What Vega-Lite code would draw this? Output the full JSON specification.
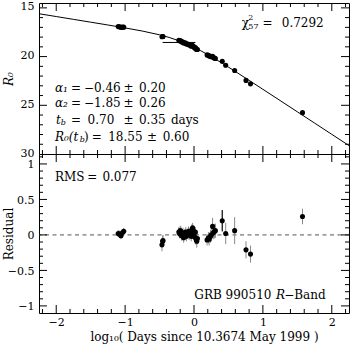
{
  "$schema": "https://vega.github.io/schema/vega-lite/v6.json",
  "padding": {"left": 1, "top": 0, "right": 1, "bottom": 2},
  "background": "white",
  "spacing": 0,
  "bounds": "flush",
  "config": {
    "font": "DejaVu Serif",
    "view": {"stroke": "black", "strokeWidth": 1},
    "axis": {"domain": false, "grid": false, "ticks": false, "labelColor": "black", "titleColor": "black", "labelFont": "DejaVu Serif", "titleFont": "DejaVu Serif", "labelFontSize": 11, "titleFontSize": 12, "titleFontWeight": "normal", "labelFlush": false, "minExtent": 0}
  },
  "datasets": {
    "curve": [
      {"x": -2.25, "R": 15.602}, {"x": -2.0, "R": 15.890}, {"x": -1.75, "R": 16.178}, {"x": -1.5, "R": 16.467},
      {"x": -1.25, "R": 16.758}, {"x": -1.0, "R": 17.058}, {"x": -0.75, "R": 17.380}, {"x": -0.5, "R": 17.765},
      {"x": -0.35, "R": 18.058}, {"x": -0.2, "R": 18.424}, {"x": -0.1, "R": 18.714}, {"x": 0.0, "R": 19.043},
      {"x": 0.1, "R": 19.407}, {"x": 0.2, "R": 19.798}, {"x": 0.3, "R": 20.212}, {"x": 0.4, "R": 20.641},
      {"x": 0.5, "R": 21.082}, {"x": 0.6, "R": 21.530}, {"x": 0.8, "R": 22.440}, {"x": 1.0, "R": 23.359},
      {"x": 1.25, "R": 24.513}, {"x": 1.5, "R": 25.668}, {"x": 1.75, "R": 26.824}, {"x": 2.0, "R": 27.981},
      {"x": 2.25, "R": 29.137}
    ],
    "tb": [{"x1": -0.456, "x2": 0.021, "R": 18.55}],
    "one": [{}],
    "xmaj": [{"v": -2}, {"v": -1}, {"v": 0}, {"v": 1}, {"v": 2}],
    "xmin": [{"v": -2.2}, {"v": -1.8}, {"v": -1.6}, {"v": -1.4}, {"v": -1.2}, {"v": -0.8}, {"v": -0.6}, {"v": -0.4}, {"v": -0.2}, {"v": 0.2}, {"v": 0.4}, {"v": 0.6}, {"v": 0.8}, {"v": 1.2}, {"v": 1.4}, {"v": 1.6}, {"v": 1.8}, {"v": 2.2}],
    "ymajT": [{"v": 15}, {"v": 20}, {"v": 25}],
    "yminT": [{"v": 16}, {"v": 17}, {"v": 18}, {"v": 19}, {"v": 21}, {"v": 22}, {"v": 23}, {"v": 24}, {"v": 26}, {"v": 27}, {"v": 28}, {"v": 29}],
    "ymajB": [{"v": -1}, {"v": -0.5}, {"v": 0}, {"v": 0.5}, {"v": 1}],
    "yminB": [{"v": -0.9}, {"v": -0.8}, {"v": -0.7}, {"v": -0.6}, {"v": -0.4}, {"v": -0.3}, {"v": -0.2}, {"v": -0.1}, {"v": 0.1}, {"v": 0.2}, {"v": 0.3}, {"v": 0.4}, {"v": 0.6}, {"v": 0.7}, {"v": 0.8}, {"v": 0.9}, {"v": 1.1}],
    "obs": [
      {"x": -1.10, "R": 16.92, "res": 0.02, "err": 0.05},
      {"x": -1.08, "R": 16.95, "res": 0.01, "err": 0.05},
      {"x": -1.06, "R": 17.00, "res": -0.01, "err": 0.05},
      {"x": -1.04, "R": 16.98, "res": 0.03, "err": 0.05},
      {"x": -1.02, "R": 16.98, "res": 0.05, "err": 0.05},
      {"x": -0.465, "R": 17.97, "res": -0.14, "err": 0.09},
      {"x": -0.455, "R": 17.94, "res": -0.09, "err": 0.08},
      {"x": -0.45, "R": 17.94, "res": -0.08, "err": 0.08},
      {"x": -0.22, "R": 18.335, "res": 0.04, "err": 0.07},
      {"x": -0.21, "R": 18.38, "res": 0.02, "err": 0.07},
      {"x": -0.20, "R": 18.364, "res": 0.06, "err": 0.07},
      {"x": -0.19, "R": 18.40, "res": 0.05, "err": 0.07},
      {"x": -0.18, "R": 18.49, "res": -0.01, "err": 0.07},
      {"x": -0.17, "R": 18.51, "res": 0.00, "err": 0.07},
      {"x": -0.16, "R": 18.51, "res": 0.03, "err": 0.07},
      {"x": -0.15, "R": 18.61, "res": -0.04, "err": 0.07},
      {"x": -0.14, "R": 18.59, "res": 0.01, "err": 0.07},
      {"x": -0.12, "R": 18.62, "res": 0.04, "err": 0.07},
      {"x": -0.11, "R": 18.71, "res": -0.02, "err": 0.07},
      {"x": -0.09, "R": 18.73, "res": 0.02, "err": 0.07},
      {"x": -0.08, "R": 18.73, "res": 0.05, "err": 0.07},
      {"x": -0.07, "R": 18.81, "res": 0.00, "err": 0.07},
      {"x": -0.05, "R": 18.85, "res": 0.03, "err": 0.07},
      {"x": -0.04, "R": 18.93, "res": -0.02, "err": 0.07},
      {"x": -0.03, "R": 18.86, "res": 0.08, "err": 0.07},
      {"x": -0.02, "R": 18.88, "res": 0.10, "err": 0.07},
      {"x": -0.01, "R": 18.95, "res": 0.06, "err": 0.07},
      {"x": 0.00, "R": 19.02, "res": 0.02, "err": 0.07},
      {"x": 0.01, "R": 19.11, "res": -0.03, "err": 0.07},
      {"x": 0.02, "R": 19.08, "res": 0.04, "err": 0.07},
      {"x": 0.03, "R": 19.21, "res": -0.06, "err": 0.08},
      {"x": 0.04, "R": 19.28, "res": -0.09, "err": 0.09},
      {"x": 0.05, "R": 19.28, "res": -0.05, "err": 0.08},
      {"x": 0.19, "R": 19.83, "res": -0.07, "err": 0.08},
      {"x": 0.21, "R": 19.88, "res": -0.04, "err": 0.08},
      {"x": 0.22, "R": 19.94, "res": -0.06, "err": 0.09},
      {"x": 0.24, "R": 19.98, "res": -0.02, "err": 0.09},
      {"x": 0.25, "R": 20.01, "res": 0.00, "err": 0.09},
      {"x": 0.27, "R": 19.97, "res": 0.12, "err": 0.12},
      {"x": 0.28, "R": 20.10, "res": 0.03, "err": 0.09},
      {"x": 0.30, "R": 20.16, "res": 0.05, "err": 0.1},
      {"x": 0.31, "R": 20.20, "res": 0.06, "err": 0.1},
      {"x": 0.41, "R": 20.485, "res": 0.20, "err": 0.15},
      {"x": 0.46, "R": 20.886, "res": 0.02, "err": 0.15},
      {"x": 0.59, "R": 21.425, "res": 0.06, "err": 0.19},
      {"x": 0.755, "R": 22.445, "res": -0.21, "err": 0.12},
      {"x": 0.82, "R": 22.80, "res": -0.27, "err": 0.12},
      {"x": 1.575, "R": 25.755, "res": 0.26, "err": 0.11}
    ]
  },
  "vconcat": [
    {
      "width": 310,
      "height": 151,
      "resolve": {"axis": {"x": "independent", "y": "independent"}},
      "layer": [
        {
          "data": {"name": "curve"},
          "mark": {"type": "line", "color": "black", "strokeWidth": 1, "clip": true},
          "encoding": {
            "x": {"field": "x", "type": "quantitative", "scale": {"domain": [-2.25, 2.25], "nice": false, "zero": false}, "axis": null},
            "y": {"field": "R", "type": "quantitative", "scale": {"domain": [14.5, 30], "reverse": true, "nice": false, "zero": false},
                  "axis": {"orient": "left", "values": [15, 20, 25, 30], "title": "R₀", "titleFontStyle": "italic", "labelPadding": 5, "labelOffset": -1, "titleX": -31, "titleBaseline": "middle"}}
          }
        },
        {"data": {"name": "xmaj"}, "mark": {"type": "tick", "orient": "vertical", "size": 16, "thickness": 1, "color": "black", "opacity": 1, "clip": true},
         "encoding": {"x": {"field": "v", "type": "quantitative", "axis": null}, "y": {"datum": 30, "type": "quantitative", "axis": null}}},
        {"data": {"name": "xmaj"}, "mark": {"type": "tick", "orient": "vertical", "size": 16, "thickness": 1, "color": "black", "opacity": 1, "clip": true},
         "encoding": {"x": {"field": "v", "type": "quantitative", "axis": null}, "y": {"datum": 14.5, "type": "quantitative", "axis": null}}},
        {"data": {"name": "xmin"}, "mark": {"type": "tick", "orient": "vertical", "size": 8, "thickness": 1, "color": "black", "opacity": 1, "clip": true},
         "encoding": {"x": {"field": "v", "type": "quantitative", "axis": null}, "y": {"datum": 30, "type": "quantitative", "axis": null}}},
        {"data": {"name": "xmin"}, "mark": {"type": "tick", "orient": "vertical", "size": 8, "thickness": 1, "color": "black", "opacity": 1, "clip": true},
         "encoding": {"x": {"field": "v", "type": "quantitative", "axis": null}, "y": {"datum": 14.5, "type": "quantitative", "axis": null}}},
        {"data": {"name": "ymajT"}, "mark": {"type": "tick", "orient": "horizontal", "size": 16, "thickness": 1, "color": "black", "opacity": 1, "clip": true},
         "encoding": {"y": {"field": "v", "type": "quantitative", "axis": null}, "x": {"datum": -2.25, "type": "quantitative", "axis": null}}},
        {"data": {"name": "ymajT"}, "mark": {"type": "tick", "orient": "horizontal", "size": 16, "thickness": 1, "color": "black", "opacity": 1, "clip": true},
         "encoding": {"y": {"field": "v", "type": "quantitative", "axis": null}, "x": {"datum": 2.25, "type": "quantitative", "axis": null}}},
        {"data": {"name": "yminT"}, "mark": {"type": "tick", "orient": "horizontal", "size": 8, "thickness": 1, "color": "black", "opacity": 1, "clip": true},
         "encoding": {"y": {"field": "v", "type": "quantitative", "axis": null}, "x": {"datum": -2.25, "type": "quantitative", "axis": null}}},
        {"data": {"name": "yminT"}, "mark": {"type": "tick", "orient": "horizontal", "size": 8, "thickness": 1, "color": "black", "opacity": 1, "clip": true},
         "encoding": {"y": {"field": "v", "type": "quantitative", "axis": null}, "x": {"datum": 2.25, "type": "quantitative", "axis": null}}},
        {
          "data": {"name": "tb"},
          "mark": {"type": "rule", "color": "black", "strokeWidth": 1},
          "encoding": {
            "x": {"field": "x1", "type": "quantitative", "axis": null},
            "x2": {"field": "x2"},
            "y": {"field": "R", "type": "quantitative", "axis": null}
          }
        },
        {
          "data": {"name": "obs"},
          "mark": {"type": "point", "filled": true, "color": "black", "size": 26, "opacity": 1},
          "encoding": {
            "x": {"field": "x", "type": "quantitative", "axis": null},
            "y": {"field": "R", "type": "quantitative", "axis": null}
          }
        },
        {"data": {"name": "one"}, "mark": {"type": "text", "text": "χ", "align": "left", "baseline": "middle", "fontSize": 12, "font": "DejaVu Serif", "color": "black"}, "encoding": {"x": {"datum": 0.693, "type": "quantitative", "axis": null}, "y": {"datum": 16.55, "type": "quantitative", "axis": null}}},
        {"data": {"name": "one"}, "mark": {"type": "text", "text": "2", "align": "left", "baseline": "middle", "fontSize": 8, "font": "DejaVu Serif", "color": "black"}, "encoding": {"x": {"datum": 0.789, "type": "quantitative", "axis": null}, "y": {"datum": 16.05, "type": "quantitative", "axis": null}}},
        {"data": {"name": "one"}, "mark": {"type": "text", "text": "57", "align": "left", "baseline": "middle", "fontSize": 8, "font": "DejaVu Serif", "color": "black"}, "encoding": {"x": {"datum": 0.789, "type": "quantitative", "axis": null}, "y": {"datum": 17.0, "type": "quantitative", "axis": null}}},
        {"data": {"name": "one"}, "mark": {"type": "text", "text": "=", "align": "center", "baseline": "middle", "fontSize": 12, "font": "DejaVu Serif", "color": "black"}, "encoding": {"x": {"datum": 1.068, "type": "quantitative", "axis": null}, "y": {"datum": 16.57, "type": "quantitative", "axis": null}}},
        {"data": {"name": "one"}, "mark": {"type": "text", "text": "0.7292", "align": "left", "baseline": "middle", "fontSize": 12, "font": "DejaVu Serif", "color": "black"}, "encoding": {"x": {"datum": 1.274, "type": "quantitative", "axis": null}, "y": {"datum": 16.57, "type": "quantitative", "axis": null}}},

        {"data": {"name": "one"}, "mark": {"type": "text", "text": "α₁", "fontStyle": "italic", "align": "left", "baseline": "middle", "fontSize": 12, "font": "DejaVu Serif", "color": "black"}, "encoding": {"x": {"datum": -2.019, "type": "quantitative", "axis": null}, "y": {"datum": 23.18, "type": "quantitative", "axis": null}}},
        {"data": {"name": "one"}, "mark": {"type": "text", "text": "=", "align": "center", "baseline": "middle", "fontSize": 12, "font": "DejaVu Serif", "color": "black"}, "encoding": {"x": {"datum": -1.712, "type": "quantitative", "axis": null}, "y": {"datum": 23.18, "type": "quantitative", "axis": null}}},
        {"data": {"name": "one"}, "mark": {"type": "text", "text": "−0.46", "align": "left", "baseline": "middle", "fontSize": 12, "font": "DejaVu Serif", "color": "black"}, "encoding": {"x": {"datum": -1.598, "type": "quantitative", "axis": null}, "y": {"datum": 23.18, "type": "quantitative", "axis": null}}},
        {"data": {"name": "one"}, "mark": {"type": "text", "text": "±", "align": "center", "baseline": "middle", "fontSize": 12, "font": "DejaVu Serif", "color": "black"}, "encoding": {"x": {"datum": -0.952, "type": "quantitative", "axis": null}, "y": {"datum": 23.18, "type": "quantitative", "axis": null}}},
        {"data": {"name": "one"}, "mark": {"type": "text", "text": "0.20", "align": "left", "baseline": "middle", "fontSize": 12, "font": "DejaVu Serif", "color": "black"}, "encoding": {"x": {"datum": -0.799, "type": "quantitative", "axis": null}, "y": {"datum": 23.18, "type": "quantitative", "axis": null}}},

        {"data": {"name": "one"}, "mark": {"type": "text", "text": "α₂", "fontStyle": "italic", "align": "left", "baseline": "middle", "fontSize": 12, "font": "DejaVu Serif", "color": "black"}, "encoding": {"x": {"datum": -2.019, "type": "quantitative", "axis": null}, "y": {"datum": 24.73, "type": "quantitative", "axis": null}}},
        {"data": {"name": "one"}, "mark": {"type": "text", "text": "=", "align": "center", "baseline": "middle", "fontSize": 12, "font": "DejaVu Serif", "color": "black"}, "encoding": {"x": {"datum": -1.712, "type": "quantitative", "axis": null}, "y": {"datum": 24.73, "type": "quantitative", "axis": null}}},
        {"data": {"name": "one"}, "mark": {"type": "text", "text": "−1.85", "align": "left", "baseline": "middle", "fontSize": 12, "font": "DejaVu Serif", "color": "black"}, "encoding": {"x": {"datum": -1.598, "type": "quantitative", "axis": null}, "y": {"datum": 24.73, "type": "quantitative", "axis": null}}},
        {"data": {"name": "one"}, "mark": {"type": "text", "text": "±", "align": "center", "baseline": "middle", "fontSize": 12, "font": "DejaVu Serif", "color": "black"}, "encoding": {"x": {"datum": -0.952, "type": "quantitative", "axis": null}, "y": {"datum": 24.73, "type": "quantitative", "axis": null}}},
        {"data": {"name": "one"}, "mark": {"type": "text", "text": "0.26", "align": "left", "baseline": "middle", "fontSize": 12, "font": "DejaVu Serif", "color": "black"}, "encoding": {"x": {"datum": -0.799, "type": "quantitative", "axis": null}, "y": {"datum": 24.73, "type": "quantitative", "axis": null}}},

        {"data": {"name": "one"}, "mark": {"type": "text", "text": "t", "fontStyle": "italic", "align": "left", "baseline": "middle", "fontSize": 12, "font": "DejaVu Serif", "color": "black"}, "encoding": {"x": {"datum": -2.005, "type": "quantitative", "axis": null}, "y": {"datum": 26.5, "type": "quantitative", "axis": null}}},
        {"data": {"name": "one"}, "mark": {"type": "text", "text": "b", "fontStyle": "italic", "align": "left", "baseline": "middle", "fontSize": 8, "font": "DejaVu Serif", "color": "black"}, "encoding": {"x": {"datum": -1.935, "type": "quantitative", "axis": null}, "y": {"datum": 26.85, "type": "quantitative", "axis": null}}},
        {"data": {"name": "one"}, "mark": {"type": "text", "text": "=", "align": "center", "baseline": "middle", "fontSize": 12, "font": "DejaVu Serif", "color": "black"}, "encoding": {"x": {"datum": -1.712, "type": "quantitative", "axis": null}, "y": {"datum": 26.5, "type": "quantitative", "axis": null}}},
        {"data": {"name": "one"}, "mark": {"type": "text", "text": "0.70", "align": "left", "baseline": "middle", "fontSize": 12, "font": "DejaVu Serif", "color": "black"}, "encoding": {"x": {"datum": -1.545, "type": "quantitative", "axis": null}, "y": {"datum": 26.5, "type": "quantitative", "axis": null}}},
        {"data": {"name": "one"}, "mark": {"type": "text", "text": "±", "align": "center", "baseline": "middle", "fontSize": 12, "font": "DejaVu Serif", "color": "black"}, "encoding": {"x": {"datum": -0.952, "type": "quantitative", "axis": null}, "y": {"datum": 26.5, "type": "quantitative", "axis": null}}},
        {"data": {"name": "one"}, "mark": {"type": "text", "text": "0.35", "align": "left", "baseline": "middle", "fontSize": 12, "font": "DejaVu Serif", "color": "black"}, "encoding": {"x": {"datum": -0.799, "type": "quantitative", "axis": null}, "y": {"datum": 26.5, "type": "quantitative", "axis": null}}},
        {"data": {"name": "one"}, "mark": {"type": "text", "text": "days", "align": "left", "baseline": "middle", "fontSize": 12, "font": "DejaVu Serif", "color": "black"}, "encoding": {"x": {"datum": -0.335, "type": "quantitative", "axis": null}, "y": {"datum": 26.5, "type": "quantitative", "axis": null}}},

        {"data": {"name": "one"}, "mark": {"type": "text", "text": "R₀(t", "fontStyle": "italic", "align": "left", "baseline": "middle", "fontSize": 12, "font": "DejaVu Serif", "color": "black"}, "encoding": {"x": {"datum": -2.019, "type": "quantitative", "axis": null}, "y": {"datum": 28.25, "type": "quantitative", "axis": null}}},
        {"data": {"name": "one"}, "mark": {"type": "text", "text": "b", "fontStyle": "italic", "align": "left", "baseline": "middle", "fontSize": 8, "font": "DejaVu Serif", "color": "black"}, "encoding": {"x": {"datum": -1.66, "type": "quantitative", "axis": null}, "y": {"datum": 28.6, "type": "quantitative", "axis": null}}},
        {"data": {"name": "one"}, "mark": {"type": "text", "text": ")", "align": "left", "baseline": "middle", "fontSize": 12, "font": "DejaVu Serif", "color": "black"}, "encoding": {"x": {"datum": -1.598, "type": "quantitative", "axis": null}, "y": {"datum": 28.25, "type": "quantitative", "axis": null}}},
        {"data": {"name": "one"}, "mark": {"type": "text", "text": "=", "align": "center", "baseline": "middle", "fontSize": 12, "font": "DejaVu Serif", "color": "black"}, "encoding": {"x": {"datum": -1.413, "type": "quantitative", "axis": null}, "y": {"datum": 28.25, "type": "quantitative", "axis": null}}},
        {"data": {"name": "one"}, "mark": {"type": "text", "text": "18.55", "align": "left", "baseline": "middle", "fontSize": 12, "font": "DejaVu Serif", "color": "black"}, "encoding": {"x": {"datum": -1.245, "type": "quantitative", "axis": null}, "y": {"datum": 28.25, "type": "quantitative", "axis": null}}},
        {"data": {"name": "one"}, "mark": {"type": "text", "text": "±", "align": "center", "baseline": "middle", "fontSize": 12, "font": "DejaVu Serif", "color": "black"}, "encoding": {"x": {"datum": -0.61, "type": "quantitative", "axis": null}, "y": {"datum": 28.25, "type": "quantitative", "axis": null}}},
        {"data": {"name": "one"}, "mark": {"type": "text", "text": "0.60", "align": "left", "baseline": "middle", "fontSize": 12, "font": "DejaVu Serif", "color": "black"}, "encoding": {"x": {"datum": -0.455, "type": "quantitative", "axis": null}, "y": {"datum": 28.25, "type": "quantitative", "axis": null}}}
      ]
    },
    {
      "width": 310,
      "height": 159,
      "resolve": {"axis": {"x": "independent", "y": "independent"}},
      "layer": [
        {
          "data": {"name": "one"},
          "mark": {"type": "rule", "color": "#555555", "strokeWidth": 1, "strokeDash": [4, 3.5]},
          "encoding": {
            "y": {"datum": 0, "type": "quantitative", "scale": {"domain": [-1.1, 1.14], "nice": false, "zero": false},
                  "axis": {"orient": "left", "values": [-1, -0.5, 0, 0.5, 1], "format": "~g", "title": "Residual", "labelPadding": 5, "labelOffset": 1, "titleX": -31, "titleBaseline": "middle"}}
          }
        },
        {"data": {"name": "xmaj"}, "mark": {"type": "tick", "orient": "vertical", "size": 16, "thickness": 1, "color": "black", "opacity": 1, "clip": true},
         "encoding": {"x": {"field": "v", "type": "quantitative", "scale": {"domain": [-2.25, 2.25], "nice": false, "zero": false}, "axis": null}, "y": {"datum": -1.1, "type": "quantitative", "axis": null}}},
        {"data": {"name": "xmaj"}, "mark": {"type": "tick", "orient": "vertical", "size": 16, "thickness": 1, "color": "black", "opacity": 1, "clip": true},
         "encoding": {"x": {"field": "v", "type": "quantitative", "axis": null}, "y": {"datum": 1.14, "type": "quantitative", "axis": null}}},
        {"data": {"name": "xmin"}, "mark": {"type": "tick", "orient": "vertical", "size": 8, "thickness": 1, "color": "black", "opacity": 1, "clip": true},
         "encoding": {"x": {"field": "v", "type": "quantitative", "axis": null}, "y": {"datum": -1.1, "type": "quantitative", "axis": null}}},
        {"data": {"name": "xmin"}, "mark": {"type": "tick", "orient": "vertical", "size": 8, "thickness": 1, "color": "black", "opacity": 1, "clip": true},
         "encoding": {"x": {"field": "v", "type": "quantitative", "axis": null}, "y": {"datum": 1.14, "type": "quantitative", "axis": null}}},
        {"data": {"name": "ymajB"}, "mark": {"type": "tick", "orient": "horizontal", "size": 16, "thickness": 1, "color": "black", "opacity": 1, "clip": true},
         "encoding": {"y": {"field": "v", "type": "quantitative", "axis": null}, "x": {"datum": -2.25, "type": "quantitative", "axis": null}}},
        {"data": {"name": "ymajB"}, "mark": {"type": "tick", "orient": "horizontal", "size": 16, "thickness": 1, "color": "black", "opacity": 1, "clip": true},
         "encoding": {"y": {"field": "v", "type": "quantitative", "axis": null}, "x": {"datum": 2.25, "type": "quantitative", "axis": null}}},
        {"data": {"name": "yminB"}, "mark": {"type": "tick", "orient": "horizontal", "size": 8, "thickness": 1, "color": "black", "opacity": 1, "clip": true},
         "encoding": {"y": {"field": "v", "type": "quantitative", "axis": null}, "x": {"datum": -2.25, "type": "quantitative", "axis": null}}},
        {"data": {"name": "yminB"}, "mark": {"type": "tick", "orient": "horizontal", "size": 8, "thickness": 1, "color": "black", "opacity": 1, "clip": true},
         "encoding": {"y": {"field": "v", "type": "quantitative", "axis": null}, "x": {"datum": 2.25, "type": "quantitative", "axis": null}}},
        {
          "data": {"name": "obs"},
          "mark": {"type": "errorbar", "color": "#888888", "thickness": 1},
          "encoding": {
            "x": {"field": "x", "type": "quantitative", "axis": null},
            "y": {"field": "res", "type": "quantitative", "axis": null},
            "yError": {"field": "err"}
          }
        },
        {
          "data": {"name": "obs"},
          "transform": [{"filter": "datum.x == 0.41"}],
          "mark": {"type": "errorbar", "color": "black", "thickness": 1},
          "encoding": {
            "x": {"field": "x", "type": "quantitative", "axis": null},
            "y": {"field": "res", "type": "quantitative", "axis": null},
            "yError": {"field": "err"}
          }
        },
        {
          "data": {"name": "obs"},
          "mark": {"type": "point", "filled": true, "color": "black", "size": 26, "opacity": 1},
          "encoding": {
            "x": {"field": "x", "type": "quantitative",
                  "axis": {"orient": "bottom", "values": [-2, -1, 0, 1, 2], "title": "log₁₀( Days since 10.3674 May 1999 )", "labelPadding": 3, "titleX": 165, "titleY": 23, "titleBaseline": "middle"}},
            "y": {"field": "res", "type": "quantitative", "axis": null}
          }
        },
        {"data": {"name": "one"}, "mark": {"type": "text", "text": "RMS", "align": "left", "baseline": "middle", "fontSize": 12, "font": "DejaVu Serif", "color": "black"}, "encoding": {"x": {"datum": -2.019, "type": "quantitative", "axis": null}, "y": {"datum": 0.82, "type": "quantitative", "axis": null}}},
        {"data": {"name": "one"}, "mark": {"type": "text", "text": "=", "align": "center", "baseline": "middle", "fontSize": 12, "font": "DejaVu Serif", "color": "black"}, "encoding": {"x": {"datum": -1.475, "type": "quantitative", "axis": null}, "y": {"datum": 0.82, "type": "quantitative", "axis": null}}},
        {"data": {"name": "one"}, "mark": {"type": "text", "text": "0.077", "align": "left", "baseline": "middle", "fontSize": 12, "font": "DejaVu Serif", "color": "black"}, "encoding": {"x": {"datum": -1.33, "type": "quantitative", "axis": null}, "y": {"datum": 0.82, "type": "quantitative", "axis": null}}},
        {"data": {"name": "one"}, "mark": {"type": "text", "text": "GRB 990510", "align": "left", "baseline": "middle", "fontSize": 12, "font": "DejaVu Serif", "color": "black"}, "encoding": {"x": {"datum": 0.005, "type": "quantitative", "axis": null}, "y": {"datum": -0.845, "type": "quantitative", "axis": null}}},
        {"data": {"name": "one"}, "mark": {"type": "text", "text": "R", "fontStyle": "italic", "align": "left", "baseline": "middle", "fontSize": 12, "font": "DejaVu Serif", "color": "black"}, "encoding": {"x": {"datum": 1.19, "type": "quantitative", "axis": null}, "y": {"datum": -0.845, "type": "quantitative", "axis": null}}},
        {"data": {"name": "one"}, "mark": {"type": "text", "text": "−Band", "align": "left", "baseline": "middle", "fontSize": 12, "font": "DejaVu Serif", "color": "black"}, "encoding": {"x": {"datum": 1.31, "type": "quantitative", "axis": null}, "y": {"datum": -0.845, "type": "quantitative", "axis": null}}}
      ]
    }
  ]
}
